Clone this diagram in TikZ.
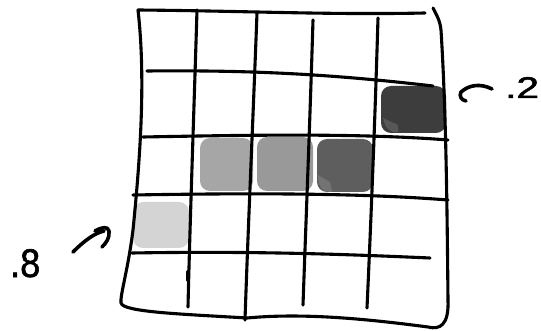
\documentclass[tikz,border=0pt]{standalone}
\usepackage{fontspec}
\setmainfont{Liberation Sans}
\begin{document}
\begin{tikzpicture}[x=1pt,y=-1pt,
  pen/.style={line width=3.1pt, line cap=round, line join=round, black},
  blob/.style={rounded corners=10pt},
  lbl/.style={anchor=base west, inner sep=0pt}]
\useasboundingbox (0,0) rectangle (541,331);
\fill[white] (0,0) rectangle (541,331);
% blobs
\fill[blob, fill=black!76] (381,86) rectangle (446,133);
\fill[black!66] (383,118) .. controls (385,128) and (390,133) .. (398,132) -- (398,125) -- cycle;
\fill[blob, fill=black!35] (200,138) rectangle (253,191);
\fill[blob, fill=black!40] (257,137) rectangle (313,191);
\fill[blob, fill=black!63] (317,139) rectangle (373,192);
\fill[black!55] (318,175) .. controls (318,186) and (322,192) .. (332,192) -- (330,182) -- cycle;
\fill[blob, fill=black!17] (133,202) rectangle (189,248);
% outer frame
\draw[pen] (425,13) .. controls (330,15) and (250,11) .. (138,10)
  .. controls (146,80) and (140,160) .. (133,230)
  .. controls (128,270) and (120,295) .. (121,303)
  .. controls (123,312) and (180,314) .. (247,318)
  .. controls (300,313) and (360,318) .. (428,327)
  .. controls (440,330) and (449,325) .. (448,300)
  .. controls (447,200) and (446,110) .. (441,30)
  .. controls (440,20) and (436,14) .. (433,8);
% horizontal lines
\draw[pen] (147,71) .. controls (250,70) and (330,74) .. (433,86);
\draw[pen] (143,137) .. controls (250,135) and (360,133) .. (448,140);
\draw[pen] (133,195) .. controls (250,193) and (360,193) .. (448,200);
\draw[pen] (132,253) .. controls (250,251) and (340,254) .. (430,258);
% vertical lines
\draw[pen] (197,10) .. controls (194,110) and (190,220) .. (188,307);
\draw[pen] (257,13) .. controls (253,120) and (248,230) .. (245,320);
\draw[pen] (313,20) .. controls (310,120) and (306,220) .. (303,305);
\draw[pen] (378,18) .. controls (375,120) and (371,220) .. (367,308);
\draw[pen, line width=3.8pt] (188,272) -- (188,280);
% labels
\node[lbl, font=\fontsize{30}{30}\selectfont\addfontfeature{FakeBold=1.5}] (l2) at (505,98) {\scalebox{1.35}[1]{.2}};
\node[lbl, font=\fontsize{40}{40}\selectfont\addfontfeature{FakeBold=1.5}] (l8) at (10,277) {\scalebox{0.9}[1]{.8}};
% arrows
\coordinate (a2s) at (492,89);
\coordinate (a2t) at (461,92);
\draw[pen, line width=3.6pt] (a2s) .. controls (480,83) and (469,85) .. (a2t)
  .. controls (459,96) and (461,100) .. (466,101);
\coordinate (a8s) at (73,252);
\coordinate (a8t) at (104,231);
\draw[pen, line width=3.6pt] (a8s) .. controls (85,240) and (95,233) .. (a8t);
\draw[pen, line width=3.6pt] (95,231) .. controls (102,227) and (108,226) .. (109,231)
  .. controls (110,238) and (106,243) .. (102,247);
\end{tikzpicture}
\end{document}
